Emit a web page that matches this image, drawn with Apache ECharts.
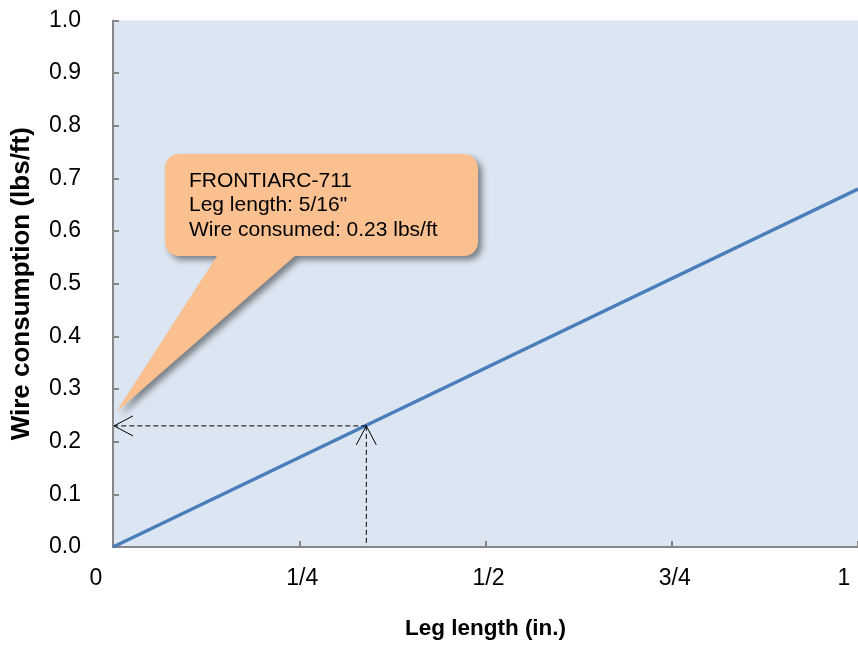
<!DOCTYPE html>
<html><head><meta charset="utf-8">
<script src="https://cdn.jsdelivr.net/npm/echarts@6/dist/echarts.min.js"></script>
<style>html,body{margin:0;padding:0;background:#fff}#c{width:858px;height:646px}</style>
</head><body><div id="c"></div>
<script>
// ---- data ----
const legLength = [0, 1];
const wireConsumption = [0, 0.68];
const xTickLabels = ['0', '1/4', '1/2', '3/4', '1'];
const markLeg = 0.34;
const markWire = 0.23;
const calloutLines = ['FRONTIARC-711', 'Leg length: 5/16"', 'Wire consumed: 0.23 lbs/ft'];
const xTitle = 'Leg length (in.)';
const yTitle = 'Wire consumption (lbs/ft)';

const FONT = '"Liberation Sans", Arial, sans-serif';
const chart = echarts.init(document.getElementById('c'), null, {renderer: 'canvas'});
const axisGray = '#868686';

chart.setOption({
  animation: false,
  backgroundColor: '#ffffff',
  grid: {left: 113, right: -6, top: 20.5, bottom: 99, show: true, backgroundColor: '#dce6f2', borderWidth: 0},
  xAxis: {
    type: 'value', min: 0, max: 1, interval: 0.25,
    name: xTitle, nameLocation: 'middle', nameGap: 70,
    nameTextStyle: {fontFamily: FONT, fontSize: 22.5, fontWeight: 'bold', color: '#000'},
    axisLine: {show: true, lineStyle: {color: axisGray, width: 2}},
    axisTick: {show: true, inside: true, length: 6, lineStyle: {color: axisGray, width: 2}},
    splitLine: {show: false},
    axisLabel: {
      margin: 20, fontFamily: FONT, fontSize: 23, color: '#000', showMinLabel: true, showMaxLabel: true,
      formatter: function (v) {
        const i = Math.round(v * 4);
        const key = i === 0 ? 'first' : (i === 4 ? 'last' : 'mid');
        return '{' + key + '|' + xTickLabels[i] + '}';
      },
      rich: {
        first: {fontFamily: FONT, fontSize: 23, color: '#000', padding: [0, 34, 0, 0]},
        mid: {fontFamily: FONT, fontSize: 23, color: '#000', padding: [0, 0, 0, 6]},
        last: {fontFamily: FONT, fontSize: 23, color: '#000', padding: [0, 28, 0, 0]}
      }
    }
  },
  yAxis: {
    type: 'value', min: 0, max: 1, interval: 0.1,
    name: yTitle, nameLocation: 'middle', nameGap: 78, nameRotate: 90,
    nameTextStyle: {fontFamily: FONT, fontSize: 26, fontWeight: 'bold', color: '#000'},
    axisLine: {show: true, lineStyle: {color: axisGray, width: 2}},
    axisTick: {show: true, inside: true, length: 6, lineStyle: {color: axisGray, width: 2}},
    splitLine: {show: false},
    axisLabel: {margin: 32, fontFamily: FONT, fontSize: 23, color: '#000',
      formatter: function (v) { return v.toFixed(1); }}
  },
  series: [{
    type: 'line', data: legLength.map((x, i) => [x, wireConsumption[i]]),
    showSymbol: false, symbol: 'none', lineStyle: {color: '#4a7ebb', width: 3.5}, z: 3
  }]
});

const g = {gridIndex: 0};
const pt = chart.convertToPixel(g, [markLeg, markWire]);
const pAY = chart.convertToPixel(g, [0, markWire]);
const pAX = chart.convertToPixel(g, [markLeg, 0]);
const tip = chart.convertToPixel(g, [0, markWire + 0.026]);
tip[0] += 3;

// callout outline: rounded rectangle with a pointer on its bottom edge
const bx1 = 165, by1 = 154, bx2 = 478, by2 = 256, r = 14;
function arc(cx, cy, a0, a1) {
  const pts = [];
  for (let k = 0; k <= 8; k++) {
    const a = a0 + (a1 - a0) * k / 8;
    pts.push([cx + r * Math.cos(a), cy + r * Math.sin(a)]);
  }
  return pts;
}
const P = Math.PI;
const outline = [].concat(
  arc(bx1 + r, by1 + r, P, 1.5 * P),
  arc(bx2 - r, by1 + r, 1.5 * P, 2 * P),
  arc(bx2 - r, by2 - r, 0, 0.5 * P),
  [[295, by2], [tip[0], tip[1]], [217, by2]],
  arc(bx1 + r, by2 - r, 0.5 * P, P)
);

const dashStyle = {stroke: '#000', lineWidth: 1, lineDash: [5, 3], fill: null};
const arrowStyle = {stroke: '#000', lineWidth: 1, fill: null};
const AL = 19, AW = 10;

chart.setOption({
  graphic: [
    {type: 'line', z: 10, shape: {x1: pt[0], y1: pt[1], x2: pAY[0] + 1, y2: pAY[1]}, style: dashStyle},
    {type: 'line', z: 10, shape: {x1: pt[0], y1: pt[1], x2: pAX[0], y2: pAX[1] - 1}, style: dashStyle},
    {type: 'polyline', z: 10, shape: {points: [[pAY[0] + 1 + AL, pAY[1] - AW], [pAY[0] + 1, pAY[1]], [pAY[0] + 1 + AL, pAY[1] + AW]]}, style: arrowStyle},
    {type: 'polyline', z: 10, shape: {points: [[pt[0] - AW, pt[1] + AL], [pt[0], pt[1]], [pt[0] + AW, pt[1] + AL]]}, style: arrowStyle},
    {type: 'polygon', z: 20, shape: {points: outline},
      style: {fill: '#fac090', stroke: null, shadowBlur: 6, shadowOffsetX: 4, shadowOffsetY: 4, shadowColor: 'rgba(0,0,0,0.45)'}},
    {type: 'text', z: 21, x: 189, y: 205.5,
      style: {text: calloutLines.join('\n'), font: '21px ' + FONT, fill: '#000', lineHeight: 24.5,
        textAlign: 'left', textVerticalAlign: 'middle'}}
  ]
});
</script></body></html>
